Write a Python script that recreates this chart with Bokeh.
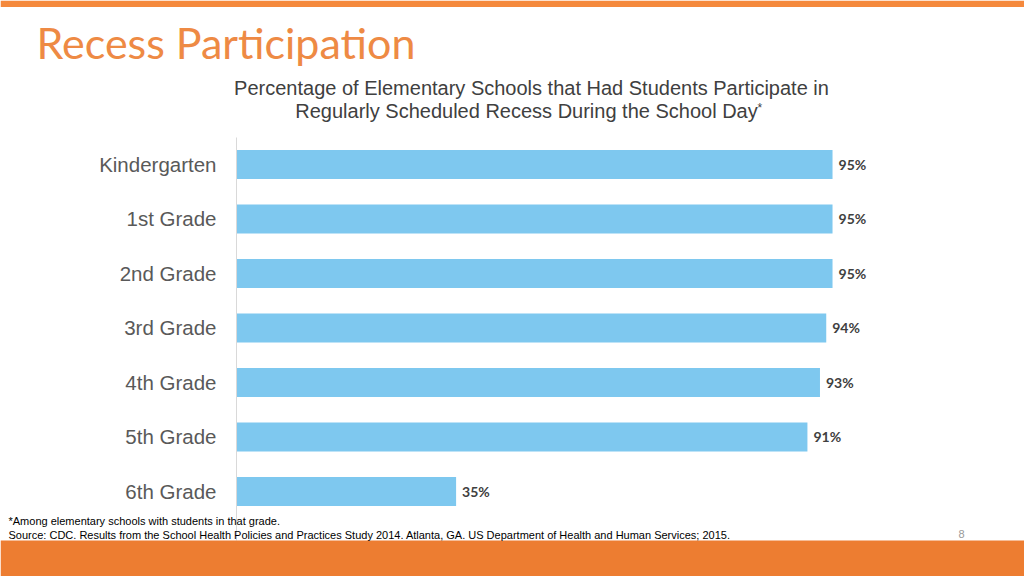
from bokeh.plotting import figure
from bokeh.models import ColumnDataSource, Label, LabelSet, BoxAnnotation, Range1d, FixedTicker
from bokeh.core.properties import value
from bokeh.embed import file_html
from bokeh.resources import INLINE

grades = ["Kindergarten", "1st Grade", "2nd Grade", "3rd Grade", "4th Grade", "5th Grade", "6th Grade"]
pct = [95, 95, 95, 94, 93, 91, 35]
value_labels = [f"{v}%" for v in pct]

title_text = "Recess Participation"
subtitle_1 = "Percentage of Elementary Schools that Had Students Participate in"
subtitle_2 = "Regularly Scheduled Recess During the School Day"
footnote_1 = "*Among elementary schools with students in that grade."
footnote_2 = "Source: CDC. Results from the School Health Policies and Practices Study 2014. Atlanta, GA. US Department of Health and Human Services; 2015."
page_number = "8"

W, H = 1024, 576
pos = list(range(len(grades)))

p = figure(width=W, height=H, output_backend="svg", toolbar_location=None,
           x_range=Range1d(-37.62, 125.60), y_range=Range1d(7.560, -3.009),
           min_border=0)
p.outline_line_color = None
p.background_fill_color = "white"
p.border_fill_color = "white"
p.xgrid.visible = False
p.ygrid.visible = False
p.xaxis.visible = False
ax = p.yaxis[0]
ax.fixed_location = 0
ax.ticker = FixedTicker(ticks=pos)
ax.major_label_overrides = {i: g for i, g in zip(pos, grades)}
ax.bounds = (-0.5, 6.9)
ax.axis_line_color = "#D9D9D9"
ax.major_tick_line_color = None
ax.minor_tick_line_color = None
ax.major_label_standoff = 14
ax.major_label_text_font = "Liberation Sans"
ax.major_label_text_font_size = "20.5px"
ax.major_label_text_color = "#595959"

src = ColumnDataSource(dict(y=pos, pct=pct, lab=value_labels))
p.hbar(y="y", right="pct", left=0, height=0.53, source=src, color="#7EC8EF", line_color=None)
p.add_layout(LabelSet(x="pct", y="y", text="lab", source=src, x_offset=6, y_offset=0,
                      text_baseline="middle", text_font=value("Lato"), text_font_style="bold",
                      text_font_size="14px", text_color="#404040"))

# bands (canvas units, y from top)
p.add_layout(BoxAnnotation(left=0, right=W, top=0, bottom=6.5, left_units="canvas", right_units="canvas",
                           top_units="canvas", bottom_units="canvas", fill_color="#F5893C", fill_alpha=1, line_color=None))
p.add_layout(BoxAnnotation(left=0, right=W, top=540, bottom=H, left_units="canvas", right_units="canvas",
                           top_units="canvas", bottom_units="canvas", fill_color="#ED7D31", fill_alpha=1, line_color=None))

def lab(x, y, t, **kw):
    p.add_layout(Label(x=x, y=y, text=t, x_units="canvas", y_units="canvas", **kw))

lab(36, 42, title_text, text_font="Lato", text_font_size="43px", text_color="#EE8A44", text_baseline="alphabetic")
lab(531, 87, subtitle_1, text_font="Liberation Sans", text_font_size="20px", text_color="#404040", text_align="center", text_baseline="alphabetic")
lab(526, 110, subtitle_2, text_font="Liberation Sans", text_font_size="20px", text_color="#404040", text_align="center", text_baseline="alphabetic")
lab(757, 107, "*", text_font="Liberation Sans", text_font_size="12px", text_color="#404040", text_baseline="alphabetic")
lab(8, 520, footnote_1, text_font="Liberation Sans", text_font_size="11px", text_color="#000000", text_baseline="alphabetic")
lab(8, 534, footnote_2, text_font="Liberation Sans", text_font_size="11px", text_color="#000000", text_baseline="alphabetic")
lab(958, 533, page_number, text_font="Liberation Sans", text_font_size="11px", text_color="#999999", text_baseline="alphabetic")

open("out.html", "w").write(file_html(p, INLINE))
